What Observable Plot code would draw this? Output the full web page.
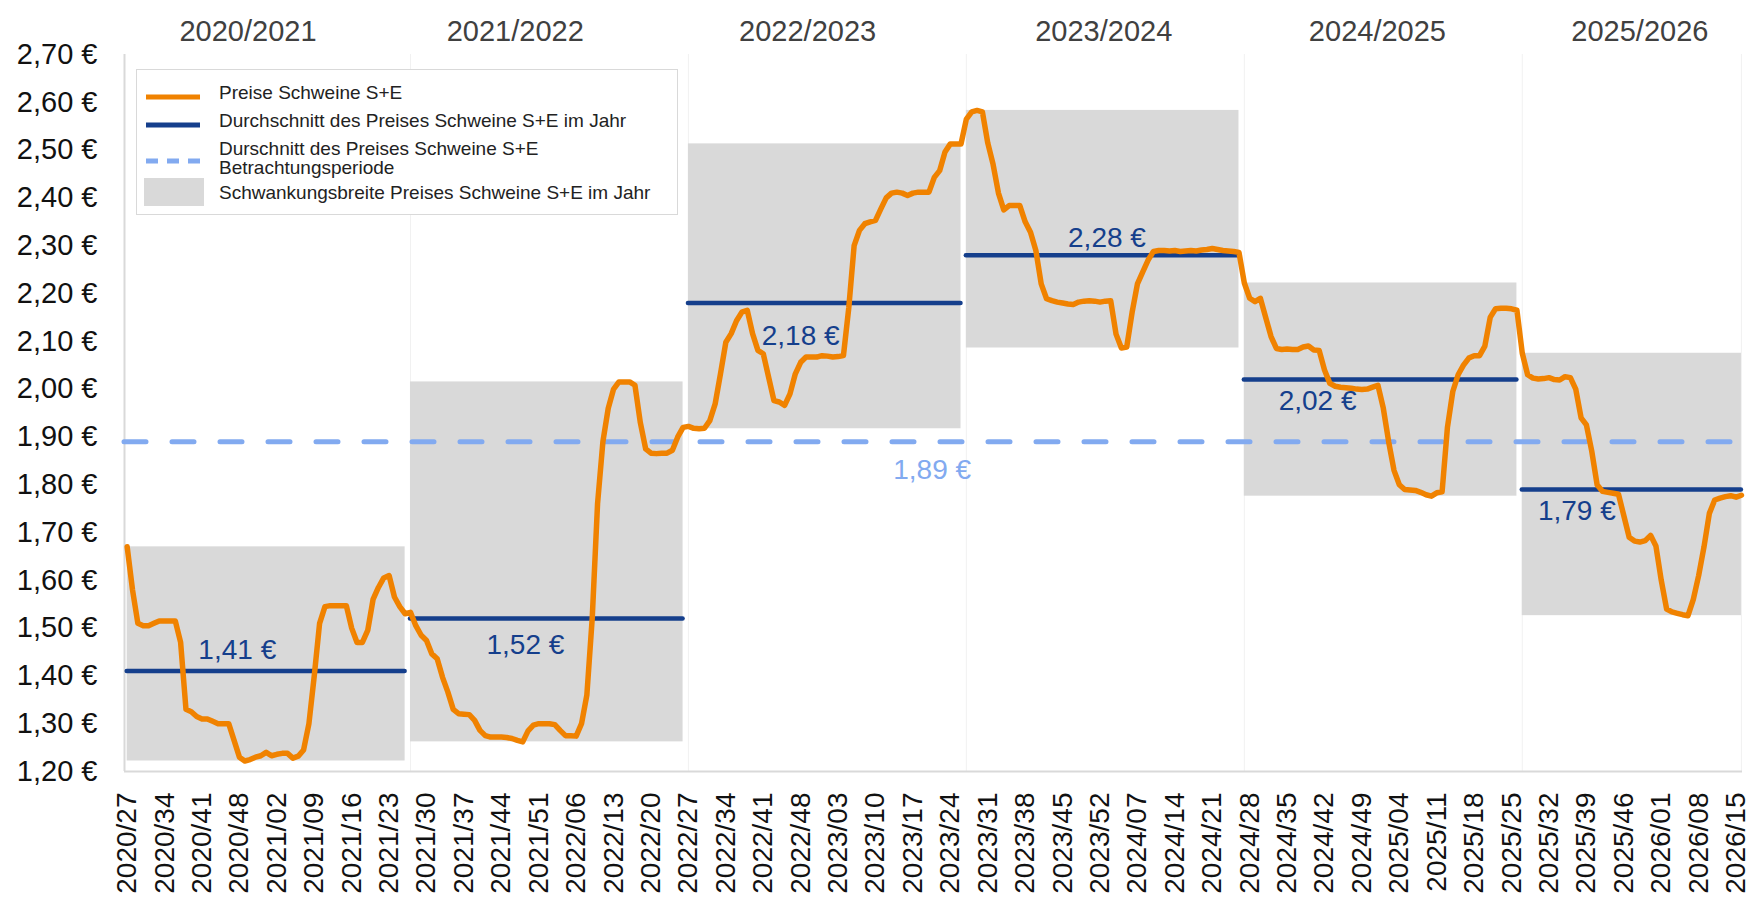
<!DOCTYPE html>
<html>
<head>
<meta charset="utf-8">
<script src="https://cdn.jsdelivr.net/npm/d3@7"></script>
<script src="https://cdn.jsdelivr.net/npm/@observablehq/plot@0.6"></script>
<style>
  html, body { margin: 0; padding: 0; background: #fff; }
  body { font-family: "Liberation Sans", Arial, sans-serif; }
  #wrap { position: relative; width: 1752px; height: 901px; overflow: hidden; }
  #legend { position: absolute; left: 136px; top: 69px; width: 540px; height: 144px;
            border: 1.5px solid #d9d9d9; background: #fff; }
  .sw { position: absolute; left: 7px; }
  .lt { position: absolute; left: 82px; font-size: 19px; color: #222; line-height: 19px; white-space: nowrap; }
</style>
</head>
<body>
<div id="wrap">
  <div id="chart"></div>
  <div id="legend"></div>
</div>
<script>
// ---------------- data ----------------
// weekly prices (€/kg), first point = 2020/27, one value per week
const prices = [
  // 2020/2021
  1.67,1.58,1.51,1.505,1.505,1.51,1.515,1.515,1.515,1.515,
  1.47,1.33,1.325,1.315,1.31,1.31,1.305,1.30,1.30,1.30,
  1.265,1.23,1.222,1.225,1.23,1.233,1.24,1.233,1.236,1.238,
  1.238,1.228,1.232,1.245,1.30,1.40,1.51,1.545,1.547,1.547,
  1.547,1.547,1.50,1.47,1.47,1.495,1.56,1.585,1.605,1.61,
  1.565,1.545,1.53,
  // 2021/2022
  1.533,1.505,1.485,1.474,1.446,1.436,1.397,1.366,1.33,1.321,
  1.32,1.319,1.307,1.286,1.275,1.272,1.272,1.272,1.271,1.269,
  1.265,1.262,1.285,1.297,1.30,1.30,1.30,1.298,1.286,1.275,
  1.275,1.274,1.30,1.36,1.52,1.76,1.89,1.96,2.00,2.015,
  2.015,2.015,2.008,1.93,1.875,1.866,1.865,1.866,1.866,1.872,
  1.90,1.92,
  // 2022/2023
  1.922,1.918,1.917,1.918,1.934,1.969,2.032,2.098,2.116,2.143,
  2.161,2.165,2.116,2.081,2.074,2.025,1.976,1.973,1.966,1.99,
  2.032,2.056,2.067,2.067,2.067,2.07,2.069,2.067,2.068,2.07,
  2.17,2.30,2.332,2.346,2.35,2.353,2.377,2.40,2.41,2.412,
  2.41,2.405,2.41,2.412,2.412,2.412,2.443,2.457,2.496,2.513,
  2.513,2.513,
  // 2023/2024
  2.565,2.58,2.583,2.58,2.515,2.47,2.41,2.375,2.384,2.384,
  2.384,2.35,2.328,2.29,2.22,2.189,2.185,2.182,2.18,2.178,
  2.177,2.182,2.184,2.185,2.184,2.182,2.184,2.185,2.115,2.086,
  2.088,2.16,2.22,2.245,2.27,2.288,2.29,2.29,2.289,2.29,
  2.288,2.289,2.29,2.289,2.291,2.292,2.294,2.292,2.29,2.289,
  2.288,2.286,
  // 2024/2025
  2.222,2.19,2.183,2.19,2.15,2.11,2.085,2.083,2.084,2.083,
  2.083,2.088,2.09,2.082,2.081,2.04,2.012,2.006,2.004,2.003,
  2.002,2.0,1.999,2.0,2.004,2.008,1.96,1.89,1.83,1.80,
  1.79,1.789,1.788,1.784,1.779,1.776,1.783,1.785,1.92,1.995,
  2.03,2.05,2.065,2.07,2.07,2.09,2.15,2.168,2.169,2.169,
  2.168,2.165,
  // 2025/2026
  2.075,2.03,2.023,2.021,2.022,2.024,2.02,2.019,2.026,2.024,
  2.0,1.94,1.925,1.87,1.80,1.786,1.784,1.782,1.78,1.735,
  1.69,1.682,1.68,1.683,1.694,1.672,1.60,1.54,1.534,1.531,
  1.528,1.526,1.56,1.61,1.67,1.74,1.768,1.772,1.775,1.777,
  1.774,1.778
];

// season names, first/last week index of each season, yearly averages
const seasonNames  = ["2020/2021","2021/2022","2022/2023","2023/2024","2024/2025","2025/2026"];
const seasonStart  = [0, 53, 105, 157, 209, 261];
const seasonEnd    = [52, 104, 156, 208, 260, 302];
const seasonAvg    = [1.41, 1.52, 2.18, 2.28, 2.02, 1.79];
const periodAvg    = 1.89;

// x tick labels (every 7th week) and y ticks
const xTickLabels = [
  "2020/27","2020/34","2020/41","2020/48","2021/02","2021/09","2021/16","2021/23",
  "2021/30","2021/37","2021/44","2021/51","2022/06","2022/13","2022/20","2022/27",
  "2022/34","2022/41","2022/48","2023/03","2023/10","2023/17","2023/24","2023/31",
  "2023/38","2023/45","2023/52","2024/07","2024/14","2024/21","2024/28","2024/35",
  "2024/42","2024/49","2025/04","2025/11","2025/18","2025/25","2025/32","2025/39",
  "2025/46","2026/01","2026/08","2026/15"
];
const yTicks = [1.2,1.3,1.4,1.5,1.6,1.7,1.8,1.9,2.0,2.1,2.2,2.3,2.4,2.5,2.6,2.7];

// legend texts
const legendTexts = [
  "Preise Schweine S+E",
  "Durchschnitt des Preises Schweine S+E im Jahr",
  "Durschnitt des Preises Schweine S+E<br>Betrachtungsperiode",
  "Schwankungsbreite Preises Schweine S+E im Jahr"
];

// ---------------- layout (annotation placement, not data) ----------------
const layout = {
  headerWeek: [22.6, 72.6, 127.3, 182.7, 233.9, 283],
  avgLabelWeek: [20.6, 74.5, 126, 183.3, 222.7, 271.2],
  avgLabelDy: [-21, 26, 33, -17, 21, 22],
  periodLabelWeek: 150.6,
  periodLabelDy: 28
};

const C = {
  orange: "#f08200", navy: "#153f8c", light: "#82aaf0", band: "#d9d9d9",
  axis: "#d9d9d9", sep: "#f1f1f1", header: "#404040", tick: "#111"
};

// ---------------- derived tables ----------------
const series = prices.map((v, i) => ({i, v}));
const seasons = seasonNames.map((name, k) => {
  const slice = prices.slice(seasonStart[k], seasonEnd[k] + 1);
  return {name, start: seasonStart[k], end: seasonEnd[k], avg: seasonAvg[k],
          min: d3.min(slice), max: d3.max(slice),
          header: layout.headerWeek[k], lab: layout.avgLabelWeek[k]};
});
const xTicks = xTickLabels.map((_, k) => k * 7);
const xDomain = [-0.5, prices.length - 1 + 0.2];
const eur = v => d3.format(".2f")(v).replace(".", ",") + " €";

const font = '"Liberation Sans", Arial, sans-serif';

const chart = Plot.plot({
  width: 1752, height: 901,
  marginLeft: 124, marginRight: 10, marginTop: 54, marginBottom: 130,
  x: {domain: xDomain, axis: null},
  y: {domain: [yTicks[0], yTicks[yTicks.length - 1]], axis: null},
  style: {fontFamily: font, color: C.tick, background: "#fff"},
  marks: [
    // season separators
    Plot.ruleX([...seasonStart.slice(1), prices.length - 1], {y1: yTicks[0], y2: yTicks[yTicks.length-1], stroke: C.sep, strokeWidth: 1}),
    // fluctuation bands
    Plot.rect(seasons, {x1: "start", x2: "end", y1: "min", y2: "max", fill: C.band}),
    // axes lines
    Plot.ruleX([xDomain[0]], {stroke: C.axis, strokeWidth: 2}),
    Plot.ruleY([yTicks[0]], {stroke: C.axis, strokeWidth: 2}),
    // period average (dashed)
    Plot.ruleY([periodAvg], {stroke: C.light, strokeWidth: 5, strokeDasharray: "22,26", strokeLinecap: "round"}),
    // yearly averages
    Plot.ruleY(seasons, {y: "avg", x1: "start", x2: "end", stroke: C.navy, strokeWidth: 4.5, strokeLinecap: "round"}),
    // prices
    Plot.line(series, {x: "i", y: "v", stroke: C.orange, strokeWidth: 5.5, strokeLinejoin: "round", strokeLinecap: "round"}),
    // average labels
    ...seasons.map((s, k) => Plot.text([s], {x: "lab", y: "avg", text: d => eur(d.avg), dy: layout.avgLabelDy[k],
        fontSize: 28, fill: C.navy, textAnchor: "middle"})),
    Plot.text([periodAvg], {x: () => layout.periodLabelWeek, y: d => d, text: d => eur(d), dy: layout.periodLabelDy,
        fontSize: 28, fill: C.light, textAnchor: "middle"}),
    // season headers
    Plot.text(seasons, {x: "header", frameAnchor: "top", dy: -34, text: "name", fontSize: 29, fill: C.header}),
    // axes
    Plot.axisY(yTicks, {tickSize: 0, tickPadding: 27, tickFormat: eur, fontSize: 29}),
    Plot.axisX(xTicks, {tickSize: 0, tickPadding: 21, tickRotate: -90, fontSize: 28,
        tickFormat: d => xTickLabels[Math.round(d / 7)]})
  ]
});
document.getElementById("chart").appendChild(chart);

// ---------------- legend ----------------
const lg = document.getElementById("legend");
const swatches = [
  `<svg width="58" height="10"><line x1="2" y1="5" x2="56" y2="5" stroke="${C.orange}" stroke-width="5"/></svg>`,
  `<svg width="58" height="10"><line x1="2" y1="5" x2="56" y2="5" stroke="${C.navy}" stroke-width="5"/></svg>`,
  `<svg width="58" height="10"><line x1="2" y1="5" x2="56" y2="5" stroke="${C.light}" stroke-width="5" stroke-dasharray="12,9"/></svg>`,
  `<svg width="60" height="28"><rect x="0" y="0" width="60" height="28" fill="${C.band}"/></svg>`
];
const swTop = [18, 46, 82, 108];
const txtTop = [13, 41, 69, 113];
legendTexts.forEach((t, k) => {
  const s = document.createElement("div");
  s.className = "sw"; s.style.top = swTop[k] + "px"; s.innerHTML = swatches[k];
  lg.appendChild(s);
  const d = document.createElement("div");
  d.className = "lt"; d.style.top = txtTop[k] + "px"; d.innerHTML = t;
  lg.appendChild(d);
});
</script>
</body>
</html>
